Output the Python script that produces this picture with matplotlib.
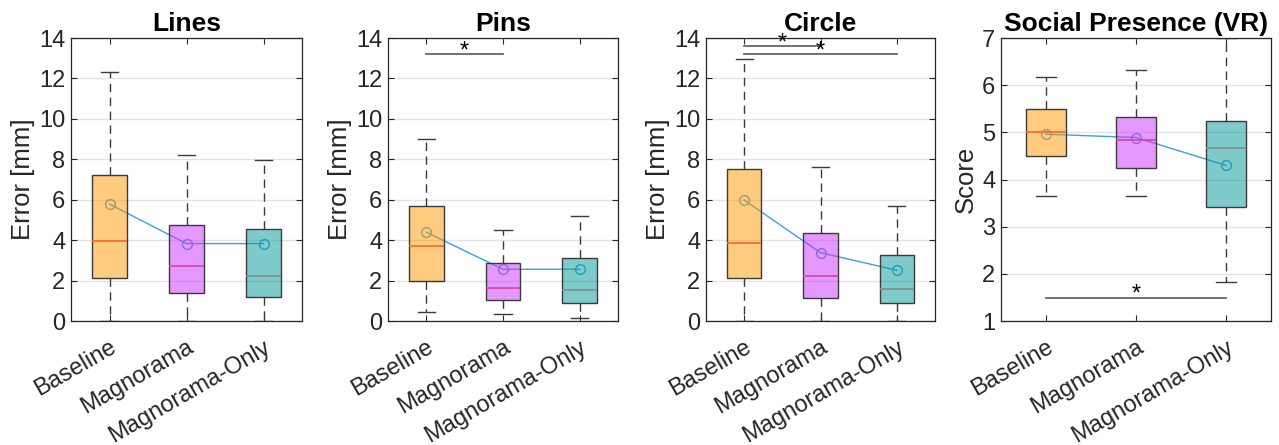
import numpy as np
import matplotlib.pyplot as plt

plt.rcParams["font.family"] = ["Liberation Sans", "DejaVu Sans"]

conditions = ["Baseline", "Magnorama", "Magnorama-Only"]
titles = ["Lines", "Pins", "Circle", "Social Presence (VR)"]
ylabels = ["Error [mm]", "Error [mm]", "Error [mm]", "Score"]

# box statistics per panel: one value per condition
lines_whislo = [0.02, 0.0, 0.0]
lines_q1 = [2.11, 1.37, 1.19]
lines_med = [3.96, 2.72, 2.25]
lines_q3 = [7.20, 4.77, 4.57]
lines_whishi = [12.30, 8.22, 7.97]
lines_mean = [5.78, 3.83, 3.83]

pins_whislo = [0.43, 0.33, 0.13]
pins_q1 = [2.00, 1.02, 0.89]
pins_med = [3.73, 1.62, 1.55]
pins_q3 = [5.68, 2.86, 3.10]
pins_whishi = [9.00, 4.52, 5.20]
pins_mean = [4.39, 2.56, 2.56]

circle_whislo = [0.02, 0.0, 0.0]
circle_q1 = [2.11, 1.16, 0.88]
circle_med = [3.85, 2.25, 1.57]
circle_q3 = [7.51, 4.37, 3.25]
circle_whishi = [12.98, 7.64, 5.68]
circle_mean = [5.98, 3.38, 2.51]

social_whislo = [3.66, 3.66, 1.82]
social_q1 = [4.50, 4.24, 3.41]
social_med = [5.00, 4.83, 4.66]
social_q3 = [5.49, 5.32, 5.24]
social_whishi = [6.17, 6.33, 7.00]
social_mean = [4.96, 4.89, 4.30]

# significance brackets: (from group, to group, height)
lines_sig = []
pins_sig = [(1, 2, 13.22)]
circle_sig = [(1, 2, 13.59), (1, 3, 13.22)]
social_sig = [(1, 3, 1.495)]

panels = [
    (lines_whislo, lines_q1, lines_med, lines_q3, lines_whishi, lines_mean, lines_sig),
    (pins_whislo, pins_q1, pins_med, pins_q3, pins_whishi, pins_mean, pins_sig),
    (circle_whislo, circle_q1, circle_med, circle_q3, circle_whishi, circle_mean, circle_sig),
    (social_whislo, social_q1, social_med, social_q3, social_whishi, social_mean, social_sig),
]
ylims = [(0, 14), (0, 14), (0, 14), (1, 7)]
yticks = [np.arange(0, 15, 2), np.arange(0, 15, 2), np.arange(0, 15, 2), np.arange(1, 8, 1)]

box_colors = [(1.0, 0.6, 0.0), (0.8, 0.2, 1.0), (0.0, 0.6, 0.6)]
median_colors = ["#F26A2A", "#E0409E", "#808C8C"]
mean_color = "#3F9FDC"
dark = "#262626"

# axes rectangles in pixels (left, right)
W, H = 1279, 445
ax_x = [(71, 302), (388, 618), (706, 935), (1001, 1271)]
top, bottom = 38, 321

fig = plt.figure(figsize=(W / 100, H / 100), dpi=100)
fig.patch.set_facecolor("white")

for i, (lo, q1, med, q3, hi, mean, sig) in enumerate(panels):
    l, r = ax_x[i]
    ax = fig.add_axes([l / W, (H - bottom) / H, (r - l) / W, (bottom - top) / H])

    stats = []
    for k in range(3):
        stats.append({"whislo": lo[k], "q1": q1[k], "med": med[k], "q3": q3[k],
                      "whishi": hi[k], "mean": mean[k], "fliers": []})
    pos = [1, 2, 3]

    # mean trend line, drawn below the translucent boxes
    ax.plot(pos, mean, color=mean_color, lw=1.0, marker="o", markersize=7,
            markerfacecolor="none", markeredgecolor=mean_color, zorder=1)

    bp = ax.bxp(stats, positions=pos, widths=0.45, capwidths=0.225,
                patch_artist=True, showmeans=False,
                boxprops=dict(edgecolor="#3a3a3a", linewidth=1.0),
                whiskerprops=dict(color="#3a3a3a", linestyle=(0, (6, 4)), linewidth=1.0),
                capprops=dict(color="#3a3a3a", linewidth=1.0),
                medianprops=dict(linewidth=1.2))
    for k, patch in enumerate(bp["boxes"]):
        patch.set_facecolor(box_colors[k] + (0.5,))
        patch.set_zorder(2)
    for k, m in enumerate(bp["medians"]):
        m.set_color(median_colors[k])
        m.set_zorder(3)

    for (a, b, y) in sig:
        ax.plot([a, b], [y, y], color="#666666", lw=1.3, zorder=4)
        off = 0.12 if ylims[i][1] > 10 else 0.07
        ax.text((a + b) / 2, y + off, "*", ha="center", va="center",
                fontsize=17, color="black", zorder=5)

    ax.set_xlim(0.5, 3.5)
    ax.set_ylim(*ylims[i])
    ax.set_yticks(yticks[i])
    ax.set_xticks(pos)
    ax.set_xticklabels(conditions, rotation=30, ha="right", va="top",
                       rotation_mode="anchor", fontsize=17, color=dark)
    ax.tick_params(axis="y", labelsize=17, labelcolor=dark)
    ax.tick_params(direction="in", top=True, right=True, length=4,
                   width=0.8, color=dark, pad=4)
    ax.tick_params(axis="x", pad=11)
    ax.yaxis.grid(True, color="#e3e3e3", linewidth=1.0)
    ax.set_axisbelow(True)
    for sp in ax.spines.values():
        sp.set_color(dark)
        sp.set_linewidth(0.9)
    ax.set_title(titles[i], fontsize=19, fontweight="bold", pad=5)
    ax.set_ylabel(ylabels[i], fontsize=18.5, color=dark, labelpad=3)

fig.savefig("out.png", dpi=100, facecolor="white")
